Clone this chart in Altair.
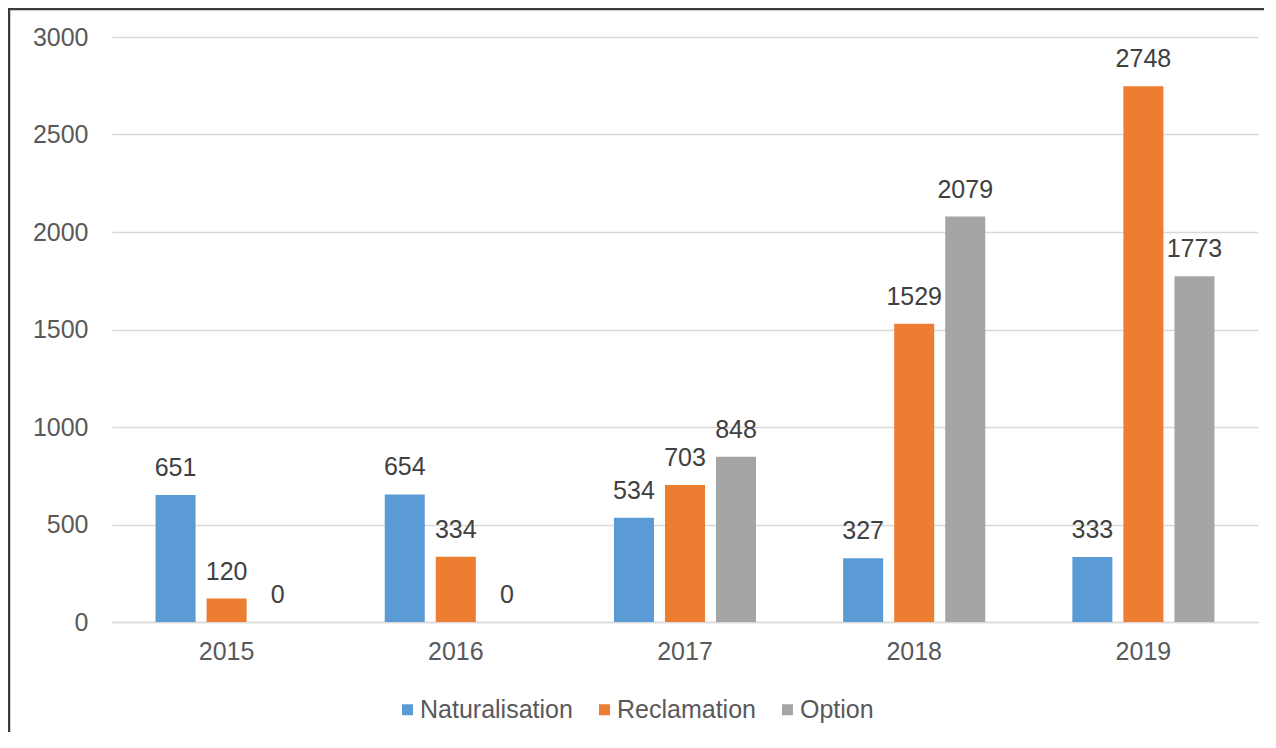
import altair as alt
import pandas as pd

years = ["2015", "2016", "2017", "2018", "2019"]
series = ["Naturalisation", "Reclamation", "Option"]
naturalisation = [651, 654, 534, 327, 333]
reclamation = [120, 334, 703, 1529, 2748]
option = [0, 0, 848, 2079, 1773]
colors = ["#5B9BD5", "#ED7D31", "#A5A5A5"]
y_ticks = [0, 500, 1000, 1500, 2000, 2500, 3000]

rows = []
for name, vals in zip(series, [naturalisation, reclamation, option]):
    for yr, v in zip(years, vals):
        rows.append({"year": yr, "series": name, "value": v})
df = pd.DataFrame(rows)

W, H = 1146, 585
FONT = "Liberation Sans"

x_enc = alt.X("year:N", sort=years, title=None,
              scale=alt.Scale(paddingInner=0.38, paddingOuter=0.19),
              axis=alt.Axis(labelAngle=0, labelFontSize=25, labelColor="#595959",
                            labelPadding=17, ticks=False, domainColor="#D9D9D9",
                            domainWidth=1.5, labelFont=FONT, grid=False))
xo_enc = alt.XOffset("series:N", sort=series,
                     scale=alt.Scale(paddingInner=0.216, paddingOuter=0))
y_enc = alt.Y("value:Q", title=None,
              scale=alt.Scale(domain=[0, 3000], nice=False),
              axis=alt.Axis(values=y_ticks, format="d", labelFontSize=25,
                            labelColor="#595959", labelPadding=24, ticks=False,
                            domain=False, gridColor="#D9D9D9", gridWidth=1.5,
                            labelFont=FONT))

bars = alt.Chart(df).mark_bar().encode(
    x=x_enc,
    xOffset=xo_enc,
    y=y_enc,
    color=alt.Color("series:N", sort=series,
                    scale=alt.Scale(domain=series, range=colors),
                    legend=alt.Legend(title=None, orient="none", direction="horizontal",
                                      legendX=283, legendY=660, padding=0,
                                      symbolType="square", symbolSize=121,
                                      symbolStrokeWidth=0, labelFontSize=25,
                                      labelColor="#595959", labelFont=FONT,
                                      labelOffset=0, columnPadding=19)),
)

labels = alt.Chart(df).mark_text(
    dy=-19, baseline="alphabetic", align="center", fontSize=25,
    color="#404040", font=FONT
).encode(
    x=alt.X("year:N", sort=years),
    xOffset=alt.XOffset("series:N", sort=series),
    y=alt.Y("value:Q"),
    text=alt.Text("value:Q"),
)

border = alt.Chart(pd.DataFrame({"a": [0]})).mark_rect(
    fill=None, stroke="#3a3a3a", strokeWidth=2.5
).encode(
    x=alt.value(-103), x2=alt.value(W + 40),
    y=alt.value(-28), y2=alt.value(H + 160),
)

chart = alt.layer(border, bars, labels).properties(
    width=W, height=H,
    autosize=alt.AutoSizeParams(type="none"),
    padding={"left": 104, "top": 29, "right": 6, "bottom": 110},
).configure(background="white").configure_view(stroke=None)

chart.save("out.html", embed_options={"renderer": "svg", "actions": False})
